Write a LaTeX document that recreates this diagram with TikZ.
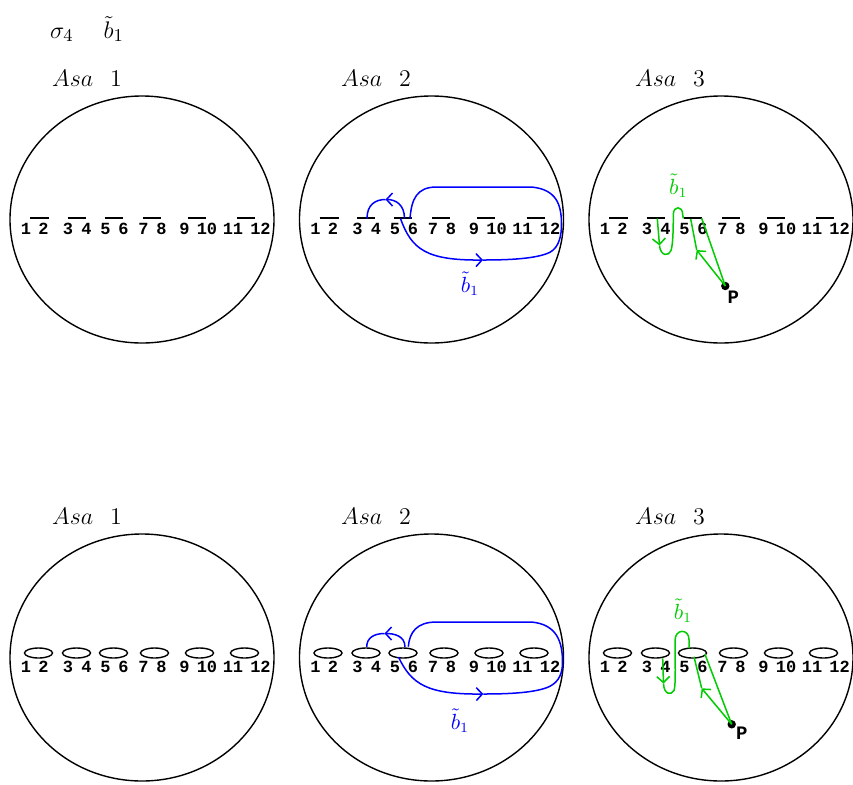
\documentclass[tikz,border=0pt]{standalone}
\usepackage{fontspec}
\setmonofont{Liberation Mono}
\usetikzlibrary{arrows.meta}
\definecolor{bl}{RGB}{0,0,255}
\definecolor{gr}{RGB}{0,204,0}
\tikzset{
  disk/.style={draw, line width=0.7pt},
  num/.style={font=\fontsize{8.5}{9}\selectfont\ttfamily\bfseries, inner sep=0pt},
  plab/.style={font=\fontsize{9.5}{10}\selectfont\ttfamily\bfseries, inner sep=0pt},
  bar/.style={line width=0.7pt},
  hole/.style={draw, line width=0.7pt},
  bpath/.style={draw=bl, line width=0.75pt},
  gpath/.style={draw=gr, line width=0.75pt},
  tip/.style={-{Straight Barb[length=3pt,width=6.5pt]}},
  big/.style={font=\fontsize{13}{15}\selectfont, inner sep=0pt},
  lab/.style={font=\fontsize{10.5}{12}\selectfont, inner sep=0pt},
  pdot/.style={circle, fill=black, inner sep=0pt, minimum size=4.2pt},
}
\newcommand\mynums{%
  \foreach \n/\x in {1/-116,2/-98.5,3/-74,4/-55.5,5/-36.5,6/-18.5,7/1.5,8/19.5,9/42.5,10/65,11/91,12/118.5}
    \node[num] (d\n) at (\x,9.5) {\n};}
\newcommand\mybars{%
  \foreach \a/\b in {-112/-93,-74.5/-56.5,-37.5/-19.5,0.5/18.5,45.5/63.5,95/113}
    \draw[bar] (\a,-1.5) -- (\b,-1.5);}
\newcommand\myholes{%
  \foreach \c in {-103.5,-65.5,-28.5,12.5,57.5,102.5}
    \draw[hole] (\c,-4.5) ellipse [x radius=14, y radius=5];}
\newcommand\mydisk{\draw[disk] (0,0) ellipse [x radius=132, y radius=123.5];}
\begin{document}
\begin{tikzpicture}[x=0.5pt,y=-0.5pt]
\useasboundingbox (0,0) rectangle (853,784);

\node[big] (title) at (87,29) {$\sigma_4\quad\,\tilde b_1$};

% ---------- top row ----------
\node[big] (ta1) at (87,78) {$Asa\ \ 1$};
\node[big] (ta2) at (376,78) {$Asa\ \ 2$};
\node[big] (ta3) at (670,78) {$Asa\ \ 3$};

\begin{scope}[shift={(142,219.5)}]
  \mydisk \mybars \mynums
\end{scope}

\begin{scope}[shift={(431.5,219.5)}]
  \mydisk \mybars \mynums
  \draw[bpath, tip] (-27,-1) .. controls (-27,-15) and (-36,-20) .. (-46,-20);
  \draw[bpath] (-46,-20) .. controls (-56,-20) and (-64.5,-15) .. (-64.5,-1);
  \draw[bpath, tip] (-31,-1) .. controls (-20,30) and (-5,41) .. (51.5,40.5);
  \draw[bpath] (51.5,40.5) .. controls (80,40.5) and (105,39) .. (118,33)
     .. controls (128,28) and (130,15) .. (130,5)
     .. controls (130,-15) and (125,-30) .. (100,-32.5) -- (5,-32.5)
     .. controls (-15,-32.5) and (-20,-20) .. (-21.5,-1);
  \node[lab, text=bl] (tb2) at (38.5,64.5) {$\tilde b_1$};
\end{scope}

\begin{scope}[shift={(721,219.5)}]
  \mydisk \mybars \mynums
  \draw[gpath, tip] (-63.7,-1) -- (-61.5,26);
  \draw[gpath] (-61.5,26) .. controls (-60.5,37) and (-52,37) .. (-50,31)
     .. controls (-48,25) and (-47.7,10) .. (-47.7,-5)
     .. controls (-47.7,-14) and (-38.3,-14) .. (-38.3,-5) -- (-37.7,-1);
  \node[pdot] (P1) at (4.3,66.5) {};
  \coordinate (u1) at (-19.3,-1.2);
  \coordinate (m1) at (-24.3,30.5);
  \coordinate (v1) at (-30.3,-0.5);
  \draw[gpath] (P1.center) -- (u1);
  \draw[gpath, tip] (P1.center) -- (m1);
  \draw[gpath] (m1) -- (v1);
  \node[plab] (pl1) at (12.3,77.5) {P};
  \node[lab, text=gr] (tg3) at (-42.7,-34) {$\tilde b_1$};
\end{scope}

% ---------- bottom row ----------
\node[big] (ba1) at (87,516) {$Asa\ \ 1$};
\node[big] (ba2) at (376,516) {$Asa\ \ 2$};
\node[big] (ba3) at (670,516) {$Asa\ \ 3$};

\begin{scope}[shift={(142,657.5)}]
  \mydisk \myholes \mynums
\end{scope}

\begin{scope}[shift={(431.5,657.5)}]
  \mydisk \myholes \mynums
  \draw[bpath, tip] (-26.5,-10.5) .. controls (-26.5,-22) and (-38,-24) .. (-47,-24);
  \draw[bpath] (-47,-24) .. controls (-57,-24) and (-64.8,-20) .. (-64.8,-10.5);
  \draw[bpath, tip] (-33,-0.5) .. controls (-20,27) and (-4,37) .. (51.8,36.5);
  \draw[bpath] (51.8,36.5) .. controls (80,36.5) and (105,35) .. (118,29)
     .. controls (128,24) and (131,15) .. (131,5)
     .. controls (131,-15) and (126,-33) .. (100,-35.5) -- (5,-35.5)
     .. controls (-15,-35.5) and (-22,-25) .. (-23.2,-10.8);
  \node[lab, text=bl] (bb2) at (28.5,63.5) {$\tilde b_1$};
\end{scope}

\begin{scope}[shift={(721,657.5)}]
  \mydisk \myholes \mynums
  \draw[gpath, tip] (-58.3,0.8) -- (-57.5,26);
  \draw[gpath] (-57.5,26) .. controls (-57,37) and (-50,38) .. (-47,33)
     .. controls (-45,28) and (-46,0) .. (-46,-17)
     .. controls (-46,-29) and (-32,-29) .. (-32,-18) -- (-31.7,-9.2);
  \node[pdot] (P2) at (10.7,66.8) {};
  \coordinate (u2) at (-16,-3.2);
  \coordinate (m2) at (-19.3,30.8);
  \coordinate (v2) at (-27,-0.8);
  \draw[gpath] (P2.center) -- (u2);
  \draw[gpath, tip] (P2.center) -- (m2);
  \draw[gpath] (m2) -- (v2);
  \node[plab] (pl2) at (20.7,76) {P};
  \node[lab, text=gr] (bg3) at (-38,-46.5) {$\tilde b_1$};
\end{scope}
\end{tikzpicture}
\end{document}
